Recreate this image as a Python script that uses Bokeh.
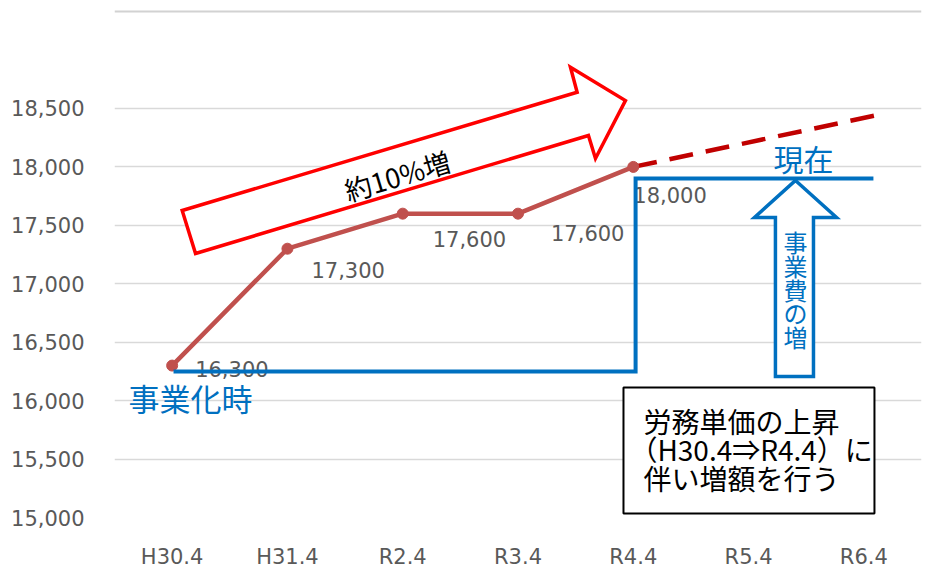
from bokeh.plotting import figure
from bokeh.models import Range1d, FixedTicker, NumeralTickFormatter, ColumnDataSource, Span
from bokeh.core.properties import value
from bokeh.embed import file_html
from bokeh.resources import INLINE

# ---- data ----
categories = ["H30.4", "H31.4", "R2.4", "R3.4", "R4.4", "R5.4", "R6.4"]
actual_values = [16300, 17300, 17600, 17600, 18000]
value_labels = ["16,300", "17,300", "17,600", "17,600", "18,000"]
proj_x = [4, 6.1]
proj_values = [18000, 18440]
y_ticks = [15000, 15500, 16000, 16500, 17000, 17500, 18000, 18500]

# label offsets (px)
label_dx = [23, 24, 30, 33, 0]
label_dy = [3, 21, 25, 19, 28]

CJK = "Noto Sans CJK JP"
BLUE = "#0070C0"

p = figure(width=943, height=581,
           x_range=Range1d(-0.5, 6.5), y_range=Range1d(15000, 19424),
           min_border_left=114, min_border_right=22, min_border_top=0, min_border_bottom=64,
           output_backend="svg", toolbar_location=None)
p.outline_line_color = None
p.background_fill_color = "white"
p.border_fill_color = "white"

# axes
p.yaxis.ticker = FixedTicker(ticks=y_ticks)
p.yaxis.formatter = NumeralTickFormatter(format="0,0")
p.xaxis.ticker = FixedTicker(ticks=list(range(len(categories))))
p.xaxis.major_label_overrides = {i: c for i, c in enumerate(categories)}
for ax in (p.xaxis, p.yaxis):
    ax.axis_line_color = None
    ax.major_tick_line_color = None
    ax.minor_tick_line_color = None
    ax.major_label_text_font = "DejaVu Sans"
    ax.major_label_text_font_size = "21px"
    ax.major_label_text_color = "#595959"
p.yaxis.major_label_standoff = 24
p.xaxis.major_label_standoff = 21
p.xgrid.grid_line_color = None
p.ygrid.grid_line_color = "#D9D9D9"
p.ygrid.grid_line_width = 1.5

# faint top border line
p.add_layout(Span(location=19330, dimension="width", line_color="#D2D2D2", line_width=2))

# red block arrow "約10%増"
p.patch([0.087, 3.513, 3.455, 3.932, 3.672, 3.611, 0.203],
        [17627, 18639, 18853, 18568, 18072, 18269, 17259],
        fill_color="white", line_color="#FF0000", line_width=3.5, line_join="miter")
p.text(x=[1.952], y=[17927], text=["約10%増"], angle=0.292,
       text_font=value(CJK), text_font_size="27px", text_color="black",
       text_align="center", text_baseline="middle")

# projection dashed line
p.line(proj_x, proj_values, line_color="#C00000", line_width=4.5, line_dash="24 13")

# actual series
xs = list(range(len(actual_values)))
src = ColumnDataSource(dict(x=xs, y=actual_values, lbl=value_labels, dx=label_dx, dy=label_dy))
p.line("x", "y", source=src, line_color="#C0504D", line_width=4.5)
p.scatter("x", "y", source=src, size=11, fill_color="#C0504D", line_color="#C0504D")
p.text("x", "y", text="lbl", source=src, x_offset="dx", y_offset="dy",
       text_font=value("DejaVu Sans"), text_font_size="21px", text_color="#595959",
       text_align="left", text_baseline="middle")

# blue upward block arrow
p.patch([5.407, 5.763, 5.563, 5.563, 5.233, 5.233, 5.051],
        [17884, 17567, 17567, 16207, 16207, 17567, 17567],
        fill_color="white", line_color=BLUE, line_width=3.5, line_join="miter")
vchars = ["事", "業", "費", "の", "増"]
v_center, v_step = 16955, 205
vys = [v_center + (2 - i) * v_step for i in range(len(vchars))]
p.text(x=[5.407] * len(vchars), y=vys, text=vchars,
       text_font=value(CJK), text_font_size="24px", text_color=BLUE,
       text_align="center", text_baseline="middle")

# blue step line
p.line([0.012, 4.02, 4.02, 6.083], [16250, 16250, 17900, 17900],
       line_color=BLUE, line_width=4, line_join="miter")

p.text(x=[5.476], y=[18072], text=["現在"], text_font=value(CJK), text_font_size="30px",
       text_color=BLUE, text_align="center", text_baseline="middle")
p.text(x=[0.159], y=[16027], text=["事業化時"], text_font=value(CJK), text_font_size="31px",
       text_color=BLUE, text_align="center", text_baseline="middle")

# note box
p.quad(left=[3.915], right=[6.092], bottom=[15034], top=[16113],
       fill_color="white", line_color="black", line_width=2)
p.text(x=[4.088, 4.088, 4.088], y=[15830, 15590, 15342],
       text=["労務単価の上昇", "（H30.4⇒R4.4）に", "伴い増額を行う"],
       x_offset=[0, -14, 0],
       text_font=value(CJK), text_font_size="28px", text_color="black",
       text_align="left", text_baseline="middle")

open("out.html", "w").write(file_html(p, INLINE))
